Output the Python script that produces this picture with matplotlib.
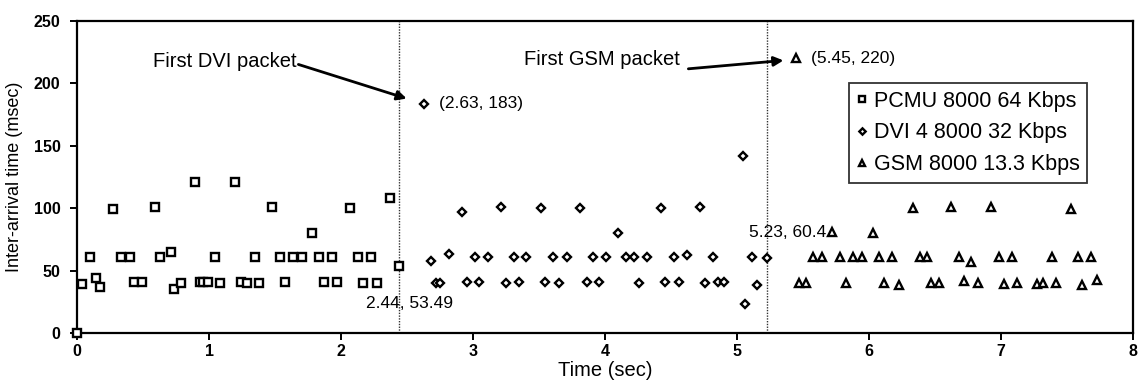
import matplotlib
matplotlib.use("Agg")
import matplotlib.pyplot as plt

plt.rcParams['font.family'] = ['Liberation Sans', 'DejaVu Sans']

# PCMU 8000 64 Kbps
pcmu_t = [0, 0.033, 0.096, 0.141, 0.176, 0.272, 0.330, 0.398, 0.429, 0.492,
          0.587, 0.630, 0.714, 0.734, 0.789, 0.890, 0.928, 0.953, 0.991, 1.041,
          1.084, 1.193, 1.238, 1.286, 1.344, 1.377, 1.475, 1.533, 1.578, 1.634,
          1.705, 1.778, 1.831, 1.873, 1.931, 1.967, 2.068, 2.131, 2.163, 2.226,
          2.269, 2.373, 2.44]
pcmu_ms = [0, 39.5, 60.8, 44, 37.3, 99.7, 60.8, 60.8, 41, 41,
           101.3, 60.8, 64.8, 35.7, 40, 120.8, 41, 41, 41, 60.8,
           40, 120.8, 41, 40, 60.8, 40, 101.3, 60.8, 41, 60.8,
           60.8, 80.5, 60.8, 41, 60.8, 41, 100, 60.8, 40, 60.8,
           40, 108.5, 53.49]

# DVI 4 8000 32 Kbps
dvi_t = [2.63, 2.681, 2.718, 2.746, 2.817, 2.915, 2.955, 3.018, 3.047, 3.113,
         3.215, 3.248, 3.311, 3.346, 3.405, 3.513, 3.546, 3.606, 3.649, 3.709,
         3.810, 3.863, 3.909, 3.956, 4.009, 4.095, 4.158, 4.222, 4.259, 4.316,
         4.425, 4.458, 4.521, 4.561, 4.622, 4.718, 4.756, 4.815, 4.860, 4.900,
         5.046, 5.058, 5.116, 5.152, 5.23]
dvi_ms = [183, 58.1, 40, 40, 63.5, 97.3, 41.3, 60.8, 41.3, 60.8,
          101.3, 40, 60.8, 41.3, 60.8, 100, 41.3, 60.8, 40, 60.8,
          100, 41.3, 60.8, 41.3, 60.8, 80.5, 60.8, 60.8, 40, 60.8,
          100, 41.3, 60.8, 41.3, 62.7, 101.3, 40, 60.8, 41.3, 41.3,
          142.1, 23.2, 60.8, 38.7, 60.4]

# GSM 8000 13.3 Kbps
gsm_t = [5.45, 5.474, 5.525, 5.580, 5.643, 5.72, 5.782, 5.825, 5.883, 5.947,
         6.028, 6.078, 6.116, 6.179, 6.225, 6.331, 6.384, 6.440, 6.470, 6.528,
         6.622, 6.685, 6.723, 6.774, 6.826, 6.925, 6.983, 7.021, 7.084, 7.122,
         7.274, 7.319, 7.392, 7.418, 7.531, 7.589, 7.616, 7.683, 7.729]
gsm_ms = [220, 40.5, 40.5, 60.8, 60.8, 81, 60.8, 40.5, 60.8, 60.8,
          80, 60.8, 40.5, 60.8, 38.5, 100, 60.8, 60.8, 40.5, 40.5,
          101.3, 60.8, 41.5, 57.3, 40.5, 100.8, 60.8, 39.5, 60.8, 40.5,
          39.5, 40.5, 60.8, 40.5, 99.5, 60.8, 38.5, 60.8, 43]

series_labels = ["PCMU 8000 64 Kbps", "DVI 4 8000 32 Kbps", "GSM 8000 13.3 Kbps"]
codec_switch_t = [2.44, 5.23]

fig = plt.figure(figsize=(11.43, 3.9), dpi=100)
ax = fig.add_axes([0.0676, 0.1454, 0.9234, 0.8016])

common = dict(linestyle='none', markerfacecolor='white', markeredgecolor='black',
              markeredgewidth=1.7, clip_on=False, zorder=3)
ax.plot(pcmu_t, pcmu_ms, marker='s', markersize=5.6, label=series_labels[0], **common)
ax.plot(dvi_t, dvi_ms, marker='D', markersize=4.3, label=series_labels[1], **common)
ax.plot(gsm_t, gsm_ms, marker='^', markersize=6.0, label=series_labels[2], **common)

for t in codec_switch_t:
    ax.axvline(t, color='#333333', linewidth=1.0, linestyle=(0, (1, 1)), zorder=1)

ax.set_xlim(0, 8)
ax.set_ylim(0, 250)
ax.set_xticks(range(0, 9))
ax.set_yticks(range(0, 251, 50))
ax.tick_params(axis='both', direction='out', length=5, width=1.4, labelsize=11.5)
ax.tick_params(axis='y', pad=7)
ax.tick_params(axis='x', pad=3)
for lbl in ax.get_xticklabels() + ax.get_yticklabels():
    lbl.set_fontweight('bold')
for sp in ax.spines.values():
    sp.set_linewidth(1.6)

ax.set_xlabel("Time (sec)", fontsize=14.5, labelpad=1)
ax.set_ylabel("Inter-arrival time (msec)", fontsize=13, labelpad=8)

# Point labels
ax.text(2.745, 183.5, "(2.63, 183)", fontsize=12.5, ha='left', va='center')
ax.text(5.56, 220, "(5.45, 220)", fontsize=12.5, ha='left', va='center')
ax.text(2.515, 24, "2.44, 53.49", fontsize=12.5, ha='center', va='center')
ax.text(5.68, 81, "5.23, 60.4", fontsize=12.5, ha='right', va='center')

# Callouts for first packets of each new codec
ax.text(1.66, 217.6, "First DVI packet", fontsize=14.5, ha='right', va='center')
ax.annotate("", xy=(2.497, 187.7), xytext=(1.676, 215),
            arrowprops=dict(arrowstyle='-|>', color='black', lw=2,
                            mutation_scale=14, shrinkA=0, shrinkB=0))
ax.text(4.569, 219, "First GSM packet", fontsize=14.5, ha='right', va='center')
ax.annotate("", xy=(5.353, 218.2), xytext=(4.632, 211.5),
            arrowprops=dict(arrowstyle='-|>', color='black', lw=2,
                            mutation_scale=14, shrinkA=0, shrinkB=0))

leg = ax.legend(loc='upper left', bbox_to_anchor=(0.7315, 0.80), borderaxespad=0,
                fontsize=15.5, frameon=True, fancybox=False, markerscale=0.75,
                handlelength=0.5, handletextpad=0.3, borderpad=0.35,
                labelspacing=0.5)
leg.get_frame().set_edgecolor('black')
leg.get_frame().set_linewidth(1.3)

fig.savefig("out.png", dpi=100)
